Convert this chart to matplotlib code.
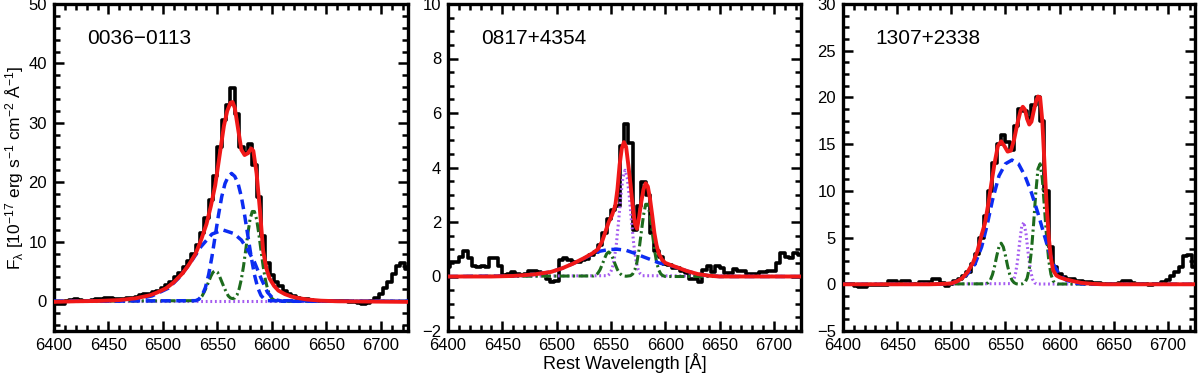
"""H-alpha + [NII] decomposition for three objects, three panels side by side.

Black: observed spectrum (4 A bins). Red: total fit. Blue dashed: broad H-alpha.
Green dash-dot: [NII] 6548,6583. Purple dotted: narrow H-alpha.
"""

import numpy as np
import matplotlib

matplotlib.use("Agg")
import matplotlib.pyplot as plt
from matplotlib.ticker import MultipleLocator

# ---- observed spectra, 4 A bins from 6400 to 6724 ----
WAVE = np.arange(6400, 6728, 4)

P1_FLUX = [
    -0.2, -0.5, -0.4, 0.0, 0.2, 0.3, 0.2, 0.1, 0.1, 0.2,
    0.3, 0.4, 0.6, 0.5, 0.3, 0.3, 0.4, 0.5, 0.6, 0.8,
    1.0, 1.3, 1.3, 1.5, 1.8, 2.2, 2.7, 3.3, 4.0, 4.8,
    5.7, 6.8, 8.0, 9.5, 11.5, 14.0, 17.0, 21.0, 26.0, 30.5,
    33.0, 35.8, 31.5, 26.0, 25.0, 26.5, 23.0, 17.5, 11.0, 6.5,
    4.5, 3.3, 2.5, 1.8, 1.3, 0.9, 0.6, 0.4, 0.3, 0.2,
    0.1, 0.1, 0.1, 0.0, 0.0, 0.0, 0.0, 0.0, -0.1, -0.2,
    -0.3, -0.4, -0.3, 0.0, 0.5, 1.3, 2.3, 3.3, 4.6, 6.0,
    6.5, 5.5,
]
P2_FLUX = [
    0.35, 0.55, 0.55, 0.73, 0.95, 0.67, 0.37, 0.35, 0.37, 0.35,
    0.67, 0.67, 0.37, 0.06, 0.1, 0.15, 0.1, 0.05, 0.1, 0.2,
    0.2, 0.15, 0.1, -0.1, -0.2, -0.15, 0.6, 0.67, 0.6, 0.55,
    0.55, 0.6, 0.65, 0.8, 0.9, 1.15, 1.6, 2.1, 2.45, 2.6,
    4.8, 5.6, 4.9, 1.7, 2.6, 3.45, 3.0, 1.6, 0.95, 0.73,
    0.45, 0.43, 0.31, 0.31, 0.2, 0.12, -0.1, -0.1, -0.2, 0.25,
    0.37, 0.18, 0.37, 0.3, 0.12, 0.12, 0.27, 0.22, 0.22, 0.1,
    0.1, 0.1, 0.18, 0.18, 0.22, 0.22, 0.5, 0.86, 0.73, 0.67,
    0.86, 0.8,
]
P3_FLUX = [
    0.0, 0.0, 0.0, -0.2, -0.3, -0.3, -0.1, -0.05, -0.1, -0.1,
    -0.05, 0.3, 0.35, 0.1, 0.3, 0.3, 0.05, 0.05, 0.2, 0.2,
    0.2, 0.55, 0.55, 0.1, -0.15, 0.05, 0.3, 0.6, 0.9, 1.3,
    2.2, 3.2, 5.0, 7.3, 10.0, 13.0, 15.0, 16.0, 15.2, 14.4,
    16.9, 18.8, 18.6, 17.8, 19.2, 20.0, 17.5, 10.0, 4.0, 1.8,
    1.1, 0.8, 0.6, 0.6, 0.4, 0.3, 0.2, 0.2, 0.1, 0.1,
    0.0, 0.0, 0.0, 0.05, 0.1, 0.3, 0.3, 0.1, 0.05, 0.0,
    0.0, -0.05, 0.0, 0.0, 0.2, 0.5, 0.9, 1.3, 1.9, 3.0,
    3.1, 1.9,
]

# ---- panel 1: 0036-0113 ----
P1_FIT_WAVE = [6400, 6420, 6440, 6460, 6475, 6488, 6495, 6503, 6510, 6518,
               6524, 6530, 6535, 6540, 6544, 6548, 6552, 6556, 6559, 6562,
               6564, 6566, 6569, 6572, 6575, 6578, 6581, 6583, 6586, 6589,
               6592, 6595, 6598, 6602, 6606, 6612, 6618, 6624, 6632, 6645,
               6660, 6725]
P1_FIT = [-0.1, 0.0, 0.05, 0.2, 0.5, 1.0, 1.5, 2.2, 3.2, 4.7,
          6.2, 8.0, 10.3, 13.0, 16.0, 19.5, 24.5, 29.5, 32.0, 33.4,
          33.5, 32.5, 29.0, 25.5, 24.6, 24.9, 25.7, 25.3, 21.5, 15.5,
          8.5, 5.5, 3.8, 2.6, 1.8, 1.2, 0.8, 0.55, 0.3, 0.1,
          0.0, -0.1]
P1_BROAD_WAVE = [6400, 6460, 6475, 6490, 6505, 6515, 6525, 6535, 6545, 6555,
                 6565, 6572, 6578, 6584, 6590, 6596, 6602, 6610, 6725]
P1_BROAD = [0, 0.05, 0.3, 0.9, 2.2, 4.0, 6.4, 9.2, 11.3, 12.0,
            11.4, 10.3, 8.6, 6.6, 3.9, 1.5, 0.3, 0, 0]
P1_BROAD2_WAVE = [6400, *range(6530, 6597, 3), 6725]
P1_BROAD2 = [0, 0.1, 0.35, 1.0, 2.3, 4.5, 7.5, 11.0, 14.5, 17.6, 19.8,
             21.0, 21.5, 21.0, 19.8, 17.6, 14.5, 11.0, 7.5, 4.5, 2.3,
             1.0, 0.35, 0.1, 0]
P1_NII_WAVE = [6400, *range(6530, 6603, 2), 6606, 6725]
P1_NII = [0, 0.1, 0.25, 0.5, 0.9, 1.6, 2.4, 3.3, 4.2, 4.9, 5.1,
          4.9, 4.2, 3.3, 2.4, 1.6, 0.9, 0.55, 0.45, 0.55, 1.05,
          2.1, 3.7, 5.9, 8.6, 11.4, 13.8, 15.1, 15.1, 13.8, 11.4,
          8.6, 5.9, 3.7, 2.1, 1.05, 0.5, 0.2, 0, 0]
P1_NARROW_WAVE = [6400, 6725]
P1_NARROW = [0, 0]

# ---- panel 2: 0817+4354 ----
P2_FIT_WAVE = [6400, 6440, 6460, 6480, 6495, 6505, 6515, 6525, 6533, 6538,
               6542, 6545, 6548, 6551, 6554, 6556, 6558, 6560, 6562, 6564,
               6566, 6568, 6570, 6572, 6574, 6576, 6578, 6580, 6582, 6584,
               6586, 6588, 6590, 6592, 6594, 6597, 6600, 6605, 6612, 6620,
               6630, 6640, 6650, 6725]
P2_FIT = [0, 0.0, 0.02, 0.08, 0.17, 0.3, 0.47, 0.67, 0.85, 1.0,
          1.3, 1.65, 2.0, 2.25, 2.6, 3.2, 4.1, 4.7, 4.93, 4.75,
          4.1, 3.4, 2.6, 1.95, 1.75, 2.2, 2.75, 3.2, 3.42, 3.3,
          2.85, 2.25, 1.6, 1.15, 0.85, 0.62, 0.5, 0.42, 0.32, 0.2,
          0.09, 0.03, 0.0, 0.0]
P2_BROAD_WAVE = [6400, 6460, 6480, 6495, 6505, 6515, 6525, 6533, 6540, 6548,
                 6556, 6564, 6572, 6580, 6588, 6594, 6600, 6605, 6612, 6620,
                 6630, 6640, 6650, 6725]
P2_BROAD = [0, 0.02, 0.08, 0.17, 0.3, 0.47, 0.66, 0.82, 0.93, 0.99,
            1.0, 0.96, 0.85, 0.72, 0.6, 0.5, 0.45, 0.4, 0.32, 0.2,
            0.09, 0.03, 0, 0]
P2_NII_WAVE = [6400, *range(6534, 6601, 2), 6725]
P2_NII = [0, 0.02, 0.05, 0.12, 0.25, 0.44, 0.65, 0.83, 0.9, 0.83, 0.65,
          0.44, 0.25, 0.12, 0.05, 0.02, 0.01, 0.02, 0.03, 0.09, 0.24,
          0.53, 1.01, 1.64, 2.25, 2.65, 2.65, 2.25, 1.64, 1.01, 0.53,
          0.24, 0.09, 0.03, 0.0, 0]
P2_NARROW_WAVE = [6400, *range(6547, 6580, 2), 6725]
P2_NARROW = [0, 0.03, 0.1, 0.27, 0.61, 1.19, 2.0, 2.9, 3.62, 3.9,
             3.62, 2.9, 2.0, 1.19, 0.61, 0.27, 0.1, 0.03, 0]

# ---- panel 3: 1307+2338 ----
P3_FIT_WAVE = [6400, 6480, 6495, 6500, 6505, 6510, 6515, 6520, 6524, 6528,
               6531, 6534, 6537, 6540, 6543, 6546, 6549, 6552, 6555, 6558,
               6561, 6564, 6566, 6568, 6570, 6572, 6574, 6576, 6578, 6580,
               6582, 6584, 6586, 6588, 6590, 6592, 6594, 6597, 6600, 6605,
               6612, 6620, 6630, 6640, 6650, 6725]
P3_FIT = [0.0, 0.0, 0.05, 0.1, 0.3, 0.65, 1.3, 2.3, 3.5, 5.3,
          6.5, 8.5, 10.8, 13.0, 14.8, 15.3, 14.8, 14.2, 14.3, 15.5,
          17.2, 18.6, 19.0, 18.7, 17.7, 17.1, 17.4, 18.5, 19.5, 20.1,
          20.0, 17.5, 13.0, 8.5, 5.0, 2.8, 1.5, 0.95, 0.75, 0.55,
          0.35, 0.15, 0.05, 0.0, 0.0, 0.0]
P3_BROAD_WAVE = [6400, 6490, 6500, 6508, 6515, 6522, 6528, 6533, 6538, 6544,
                 6550, 6556, 6562, 6568, 6574, 6580, 6586, 6590, 6595, 6600,
                 6606, 6615, 6625, 6725]
P3_BROAD = [0, 0.0, 0.1, 0.45, 1.1, 2.2, 4.0, 6.3, 9.0, 11.6,
            12.9, 13.3, 12.9, 11.6, 9.8, 7.6, 5.2, 3.6, 2.0, 1.0,
            0.45, 0.12, 0.0, 0]
P3_NII_WAVE = [6400, *range(6532, 6599, 2), 6725]
P3_NII = [0, 0.05, 0.17, 0.45, 1.03, 1.94, 3.06, 4.0, 4.4, 4.0, 3.06,
          1.94, 1.03, 0.45, 0.17, 0.05, 0.02, 0.02, 0.06, 0.2, 0.65,
          1.7, 3.6, 6.5, 9.8, 12.35, 12.9, 11.3, 8.2, 5.0, 2.5,
          1.07, 0.37, 0.11, 0.03, 0]
P3_NARROW_WAVE = [6400, *range(6555, 6580, 2), 6725]
P3_NARROW = [0, 0.07, 0.29, 0.96, 2.35, 4.4, 6.2, 6.64, 5.4, 3.3,
             1.55, 0.55, 0.15, 0.03, 0]

NAMES = ["0036\u22120113", "0817+4354", "1307+2338"]
YLIMS = [(-5, 50), (-2, 10), (-5, 30)]
YMAJOR = [10, 2, 5]
YMINOR = [2, 0.5, 1.25]

RED = "#f01818"
BLUE = "#0c2cf2"
GREEN = "#1d6b1d"
PURPLE = "#a55cf0"


def _panel(ax, flux, fit, broad, nii, narrow, extra=None):
    ax.step(WAVE, flux, where="mid", color="black", lw=2.6, zorder=2)
    ax.plot(*narrow, color=PURPLE, lw=2.2, ls=(0, (0.6, 0.9)), zorder=3)
    ax.plot(*nii, color=GREEN, lw=2.2, ls=(0, (3.2, 1.1, 0.7, 1.1)), zorder=3)
    ax.plot(*broad, color=BLUE, lw=2.5, ls=(0, (2.8, 1.6)), zorder=3)
    if extra is not None:
        ax.plot(*extra, color=BLUE, lw=2.5, ls=(0, (2.8, 1.6)), zorder=3)
    ax.plot(*fit, color=RED, lw=2.8, zorder=4)


def main():
    plt.rcParams["font.family"] = ["Liberation Sans", "DejaVu Sans"]
    plt.rcParams["mathtext.fontset"] = "custom"
    plt.rcParams["mathtext.rm"] = "Liberation Sans"
    plt.rcParams["mathtext.it"] = "Liberation Sans:italic"

    fig = plt.figure(figsize=(12, 3.76), dpi=100)
    lefts = [54 / 1200, 448 / 1200, 843 / 1200]
    widths = [354 / 1200, 353 / 1200, 352 / 1200]
    bottom, height = 1 - 331 / 376, 327 / 376
    axes = [fig.add_axes([l, bottom, w, height]) for l, w in zip(lefts, widths)]

    _panel(axes[0], P1_FLUX, (P1_FIT_WAVE, P1_FIT), (P1_BROAD_WAVE, P1_BROAD),
           (P1_NII_WAVE, P1_NII), (P1_NARROW_WAVE, P1_NARROW),
           extra=(P1_BROAD2_WAVE, P1_BROAD2))
    _panel(axes[1], P2_FLUX, (P2_FIT_WAVE, P2_FIT), (P2_BROAD_WAVE, P2_BROAD),
           (P2_NII_WAVE, P2_NII), (P2_NARROW_WAVE, P2_NARROW))
    _panel(axes[2], P3_FLUX, (P3_FIT_WAVE, P3_FIT), (P3_BROAD_WAVE, P3_BROAD),
           (P3_NII_WAVE, P3_NII), (P3_NARROW_WAVE, P3_NARROW))

    for ax, name, ylim, ymaj, ymin in zip(axes, NAMES, YLIMS, YMAJOR, YMINOR):
        ax.set_xlim(6400, 6725)
        ax.set_ylim(*ylim)
        ax.xaxis.set_major_locator(MultipleLocator(50))
        ax.xaxis.set_minor_locator(MultipleLocator(10))
        ax.yaxis.set_major_locator(MultipleLocator(ymaj))
        ax.yaxis.set_minor_locator(MultipleLocator(ymin))
        ax.tick_params(which="both", direction="in", top=True, right=True,
                       width=1.8, labelsize=12, pad=5)
        ax.tick_params(which="major", length=7)
        ax.tick_params(which="minor", length=4)
        for s in ax.spines.values():
            s.set_linewidth(2.4)
        ax.text(0.093, 0.895, name, transform=ax.transAxes, fontsize=15,
                va="center", ha="left")

    axes[0].set_ylabel(
        r"F$_{\mathregular{\lambda}}$ [10$^{\mathregular{-17}}$ erg s$^{\mathregular{-1}}$ "
        r"cm$^{\mathregular{-2}}$ Å$^{\mathregular{-1}}$]",
        fontsize=12.5, labelpad=2)
    axes[1].set_xlabel("Rest Wavelength [Å]", fontsize=13, labelpad=0)

    fig.savefig("out.png", dpi=100)


if __name__ == "__main__":
    main()
